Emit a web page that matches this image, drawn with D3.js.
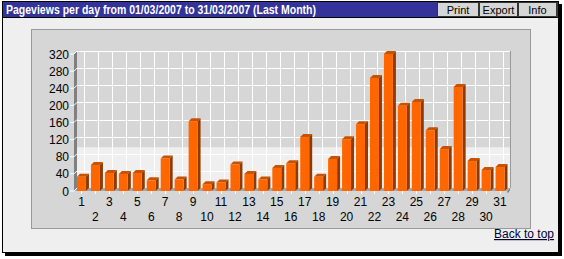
<!DOCTYPE html>
<html>
<head>
<meta charset="utf-8">
<script src="https://cdn.jsdelivr.net/npm/d3@7"></script>
<style>
body{margin:0;background:#fff;}
svg text{font-family:"Liberation Sans",Arial,sans-serif;}
</style>
</head>
<body>
<svg id="chart" width="564" height="259"></svg>
<script>
// pageviews per day, march 2007
let days = d3.range(1, 32);
let views = [33, 61, 42, 40, 42, 25, 76, 27, 163, 16, 20, 62, 40, 27, 54, 65, 126, 33, 75, 121, 156, 264, 320, 199, 208, 142, 98, 243, 70, 49, 56];
let yTicks = [0, 40, 80, 120, 160, 200, 240, 280, 320];
let buttons = ["Print", "Export", "Info"];
let title = "Pageviews per day from 01/03/2007 to 31/03/2007 (Last Month)";

(() => {
const svg = d3.select('#chart');

// ---------- frame ----------
svg.append('rect').attr('x', 5).attr('y', 4).attr('width', 557).attr('height', 252).attr('fill', '#000');
svg.append('rect').attr('x', 2.5).attr('y', 1.5).attr('width', 556).attr('height', 251)
    .attr('fill', '#efefef').attr('stroke', '#000');
svg.append('rect').attr('x', 3).attr('y', 2).attr('width', 555).attr('height', 15).attr('fill', '#333399');
svg.append('text').attr('x', 6).attr('y', 14).attr('fill', '#fff')
    .style('font-weight', 'bold').style('font-size', '12.5px')
    .attr('textLength', 310).attr('lengthAdjust', 'spacingAndGlyphs')
    .text(title);

// buttons top right
const bw = [42, 39, 39];
let left = 437;
buttons.forEach((b, i) => {
    svg.append('rect').attr('x', left + 0.5).attr('y', 2.5).attr('width', bw[i] - 1).attr('height', 14)
        .attr('fill', '#d6d6d6').attr('stroke', '#333');
    svg.append('text').attr('x', left + bw[i] / 2).attr('y', 14).attr('text-anchor', 'middle')
        .style('font-size', '11px').attr('fill', '#000').text(b);
    left += bw[i];
});
svg.append('line').attr('x1', 3).attr('x2', 558).attr('y1', 17.5).attr('y2', 17.5).attr('stroke', '#000');

// ---------- chart panel ----------
svg.append('rect').attr('x', 31.5).attr('y', 29.5).attr('width', 499).attr('height', 199)
    .attr('fill', '#d6d6d6').attr('stroke', '#999');

const dx = 3, dy = -3;
const x = d3.scaleBand().domain(days).range([74.5, 507]).paddingInner(5 / 14).paddingOuter(5 / 28);
const y = d3.scaleLinear().domain([0, 320]).range([191, 54]);
const x0 = 74, x1 = 507;

// back wall
svg.append('rect').attr('x', x0 + dx).attr('y', y(320) + dy).attr('width', x1 - x0).attr('height', y(0) - y(320))
    .attr('fill', '#d6d6d6');
const avg = d3.mean(views);
svg.append('rect').attr('x', x0 + dx).attr('y', y(avg) + dy).attr('width', x1 - x0).attr('height', y(0) - y(avg))
    .attr('fill', '#efefef');
svg.append('line').attr('x1', x0 + dx).attr('x2', x1 + dx).attr('y1', y(320) + dy + 0.5).attr('y2', y(320) + dy + 0.5)
    .attr('stroke', '#999');
svg.append('line').attr('x1', x1 + dx + 0.5).attr('x2', x1 + dx + 0.5).attr('y1', y(320) + dy).attr('y2', y(0) + dy)
    .attr('stroke', '#999');

// grid
svg.append('g').selectAll('line').data(yTicks.slice(1)).enter().append('line')
    .attr('x1', x0 + dx).attr('x2', x1 + dx)
    .attr('y1', d => Math.round(y(d) + dy) + 0.5).attr('y2', d => Math.round(y(d) + dy) + 0.5)
    .attr('stroke', '#fff');
svg.append('g').selectAll('line').data(days).enter().append('line')
    .attr('x1', d => Math.round(x(d) + x.bandwidth() / 2 + dx) + 0.5)
    .attr('x2', d => Math.round(x(d) + x.bandwidth() / 2 + dx) + 0.5)
    .attr('y1', y(320) + dy).attr('y2', y(0) + dy)
    .attr('stroke', '#fff');

// left wall
svg.append('path')
    .attr('d', `M${x0},${y(320)}L${x0 + dx},${y(320) + dy}L${x0 + dx},${y(0) + dy}L${x0},${y(0)}Z`)
    .attr('fill', '#808080');
// floor
svg.append('path')
    .attr('d', `M${x0},${y(0)}L${x0 + dx},${y(0) + dy}L${x1 + dx},${y(0) + dy}L${x1},${y(0)}Z`)
    .attr('fill', '#a6a6a6');
svg.append('path')
    .attr('d', `M${x1},${y(0) + 1}L${x1 + dx},${y(0) + dy}L${x1 + dx},${y(0) + dy + 2}L${x1 + 1},${y(0) + 2}Z`)
    .attr('fill', '#777');
// little tick marks under the floor
svg.append('g').selectAll('line').data(days).enter().append('line')
    .attr('x1', d => Math.round(x(d) + x.bandwidth() / 2) + 0.5)
    .attr('x2', d => Math.round(x(d) + x.bandwidth() / 2) + 0.5)
    .attr('y1', y(0)).attr('y2', y(0) + 3)
    .attr('stroke', '#fff');

// y axis labels + connectors
const yg = svg.append('g');
yTicks.forEach(t => {
    yg.append('path')
        .attr('d', `M${x0 - 4},${y(t)}L${x0},${y(t)}L${x0 + dx},${y(t) + dy}`)
        .attr('fill', 'none').attr('stroke', '#fff');
    yg.append('text').attr('x', 69).attr('y', y(t) + 4.5).attr('text-anchor', 'end')
        .style('font-size', '12px').attr('fill', '#000').text(t);
});

// ---------- bars ----------
const bars = svg.append('g').selectAll('g').data(views).enter().append('g');
const w = x.bandwidth();
bars.append('path')
    .attr('d', (d, i) => {
        let l = x(days[i]), t = y(d);
        return `M${l},${t}L${l + dx},${t + dy}L${l + w + dx},${t + dy}L${l + w},${t}Z`;
    })
    .attr('fill', '#c85200');
bars.append('path')
    .attr('d', (d, i) => {
        let r = x(days[i]) + w, t = y(d);
        return `M${r},${t}L${r + dx},${t + dy}L${r + dx},${y(0) + dy}L${r},${y(0)}Z`;
    })
    .attr('fill', '#8f3a00');
bars.append('rect')
    .attr('x', (d, i) => x(days[i]))
    .attr('y', d => y(d))
    .attr('width', w)
    .attr('height', d => y(0) - y(d))
    .attr('fill', '#ff6600');

// x labels, odd days on first row, even on second
svg.append('g').selectAll('text').data(days).enter().append('text')
    .attr('x', d => x(d) + w / 2)
    .attr('y', d => d % 2 ? 206 : 221)
    .attr('text-anchor', 'middle')
    .style('font-size', '12px').attr('fill', '#000')
    .text(d => d);

// ---------- back to top ----------
svg.append('text').attr('x', 494).attr('y', 238)
    .style('font-size', '12px').style('text-decoration', 'underline')
    .attr('fill', '#000033').text('Back to top');
})();
</script>
</body>
</html>
